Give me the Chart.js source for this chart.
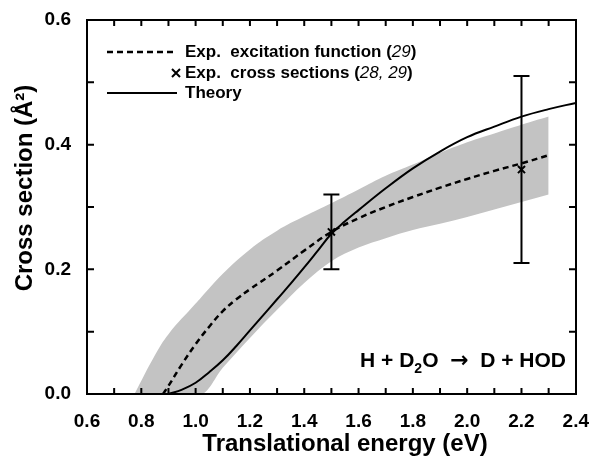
<!DOCTYPE html>
<html>
<head>
<meta charset="utf-8">
<script src="https://cdn.jsdelivr.net/npm/chart.js@4.4.0/dist/chart.umd.min.js"></script>
<style>
  html, body { margin: 0; padding: 0; background: #fff; }
  #wrap { width: 597px; height: 461px; }
</style>
</head>
<body>
<div id="wrap"><canvas id="crossSection"></canvas></div>
<script>
// H + D2O -> D + HOD : cross section vs translational energy

// grey uncertainty band of the measured excitation function
var bandEnergy = [0.775, 0.85, 0.9, 1.0, 1.02, 1.1, 1.2, 1.3, 1.4, 1.5, 1.6, 1.7, 1.8, 1.9, 2.0, 2.1, 2.2, 2.3];
var bandUpper  = [0, 0.062, 0.096, 0.145, 0.155, 0.193, 0.232, 0.262, 0.285, 0.306, 0.328, 0.35, 0.368, 0.387, 0.404, 0.418, 0.432, 0.445];
var bandLower  = [0, 0, 0, 0, 0, 0.042, 0.09, 0.135, 0.178, 0.213, 0.235, 0.25, 0.263, 0.273, 0.284, 0.296, 0.308, 0.32];

// dashed: exp. excitation function
var excEnergy = [0.88, 0.9, 0.95, 1.0, 1.05, 1.1, 1.15, 1.2, 1.3, 1.4, 1.5, 1.6, 1.7, 1.8, 1.9, 2.0, 2.1, 2.2, 2.3];
var excSigma  = [0, 0.013, 0.048, 0.08, 0.108, 0.133, 0.152, 0.168, 0.198, 0.23, 0.26, 0.282, 0.3, 0.316, 0.331, 0.345, 0.358, 0.37, 0.383];

// solid: theory
var theoryEnergy = [0.9, 0.95, 1.0, 1.05, 1.1, 1.15, 1.2, 1.25, 1.3, 1.35, 1.4, 1.45, 1.5, 1.55, 1.6, 1.7, 1.8, 1.9, 2.0, 2.1, 2.2, 2.3, 2.4];
var theorySigma  = [0, 0.007, 0.018, 0.035, 0.054, 0.077, 0.102, 0.127, 0.152, 0.177, 0.203, 0.23, 0.257, 0.277, 0.295, 0.33, 0.362, 0.389, 0.412, 0.429, 0.445, 0.457, 0.467];

// crosses with error bars: exp. cross sections
var expEnergy = [1.5, 2.2];
var expSigma  = [0.26, 0.36];
var expLow    = [0.20, 0.21];
var expHigh   = [0.32, 0.51];

var FONT = '"Liberation Sans", Arial, Helvetica, sans-serif';

function toPoints(xs, ys) {
  return xs.map(function (x, i) {
    return { x: x, y: ys[i] };
  });
}

// draws a row of text pieces with their own fonts / offsets, returns end x
function drawRuns(ctx, x, y, runs, measureOnly) {
  runs.forEach(function (run) {
    ctx.font = run.font;
    if (!measureOnly) ctx.fillText(run.text, x, y + (run.dy || 0));
    x += ctx.measureText(run.text).width;
  });
  return x;
}

var framePlugin = {
  id: 'frame',
  afterDatasetsDraw: function (chart) {
    var ctx = chart.ctx;
    var xs = chart.scales.x;
    var ys = chart.scales.y;
    ctx.save();
    ctx.strokeStyle = '#000';
    ctx.lineWidth = 2;
    ctx.setLineDash([]);
    for (var i = 0; i < expEnergy.length; i++) {
      var px = xs.getPixelForValue(expEnergy[i]);
      var lo = ys.getPixelForValue(expLow[i]);
      var hi = ys.getPixelForValue(expHigh[i]);
      ctx.beginPath();
      ctx.moveTo(px, lo); ctx.lineTo(px, hi);
      ctx.moveTo(px - 8, lo); ctx.lineTo(px + 8, lo);
      ctx.moveTo(px - 8, hi); ctx.lineTo(px + 8, hi);
      ctx.stroke();
    }
    ctx.restore();
  },
  afterDraw: function (chart) {
    var ctx = chart.ctx;
    var a = chart.chartArea;
    var xs = chart.scales.x;
    var ys = chart.scales.y;
    var l = Math.round(a.left), r = Math.round(a.right);
    var t = Math.round(a.top), b = Math.round(a.bottom);
    ctx.save();
    ctx.setLineDash([]);
    ctx.strokeStyle = '#000';
    ctx.fillStyle = '#000';
    ctx.lineWidth = 2;

    // box around the plot, as filled strips
    ctx.fillRect(l - 1, t - 1, r - l + 2, 2);
    ctx.fillRect(l - 1, b - 1, r - l + 2, 2);
    ctx.fillRect(l - 1, t - 1, 2, b - t + 2);
    ctx.fillRect(r - 1, t - 1, 2, b - t + 2);

    // inward ticks on all four sides
    ctx.beginPath();
    for (var k = 7; k < 24; k++) {
      var px = xs.getPixelForValue(k / 10);
      ctx.moveTo(px, b); ctx.lineTo(px, b - 6);
      ctx.moveTo(px, t); ctx.lineTo(px, t + 6);
    }
    for (var j = 1; j < 6; j++) {
      var py = ys.getPixelForValue(j / 10);
      ctx.moveTo(l, py); ctx.lineTo(l + 7, py);
      ctx.moveTo(r, py); ctx.lineTo(r - 7, py);
    }
    ctx.stroke();

    // legend
    var bold = 'bold 17px ' + FONT;
    var ital = 'italic 17px ' + FONT;
    var lx0 = l + 20, lx1 = l + 90, tx = l + 98;
    ctx.textBaseline = 'middle';
    ctx.textAlign = 'left';

    ctx.lineWidth = 2.5;
    ctx.setLineDash([6, 4]);
    ctx.beginPath();
    ctx.moveTo(lx0, t + 32); ctx.lineTo(lx1, t + 32);
    ctx.stroke();
    ctx.setLineDash([]);
    drawRuns(ctx, tx, t + 32, [
      { text: 'Exp.  excitation function (', font: bold },
      { text: '29', font: ital },
      { text: ')', font: bold }
    ]);

    ctx.lineWidth = 2;
    ctx.beginPath();
    ctx.moveTo(tx - 13, t + 49); ctx.lineTo(tx - 5, t + 57);
    ctx.moveTo(tx - 13, t + 57); ctx.lineTo(tx - 5, t + 49);
    ctx.stroke();
    drawRuns(ctx, tx, t + 53, [
      { text: 'Exp.  cross sections (', font: bold },
      { text: '28, 29', font: ital },
      { text: ')', font: bold }
    ]);

    ctx.beginPath();
    ctx.moveTo(lx0, t + 73); ctx.lineTo(lx1, t + 73);
    ctx.stroke();
    drawRuns(ctx, tx, t + 73, [{ text: 'Theory', font: bold }]);

    // reaction label
    var big = 'bold 21px ' + FONT;
    var sub = 'bold 14px ' + FONT;
    var arrow = 'bold 22px "DejaVu Sans", sans-serif';
    var reaction = [
      { text: 'H + D', font: big },
      { text: '2', font: sub, dy: 6 },
      { text: 'O  ', font: big },
      { text: '\u2192', font: arrow },
      { text: '  D + HOD', font: big }
    ];
    ctx.textBaseline = 'alphabetic';
    var w = drawRuns(ctx, 0, 0, reaction, true);
    drawRuns(ctx, r - 10 - w, b - 27, reaction);

    // axis titles
    ctx.font = 'bold 24px ' + FONT;
    ctx.textAlign = 'center';
    ctx.fillText('Translational energy (eV)', 345, 451);
    ctx.translate(32, 188);
    ctx.rotate(-Math.PI / 2);
    ctx.fillText('Cross section (\u00c5\u00b2)', 0, 0);
    ctx.restore();
  }
};

var tickFont = { family: FONT, size: 19, weight: 'bold' };

new Chart(document.getElementById('crossSection'), {
  type: 'line',
  data: {
    datasets: [
      {
        label: 'band upper',
        data: toPoints(bandEnergy, bandUpper),
        borderWidth: 0,
        pointRadius: 0,
        fill: '+1',
        backgroundColor: '#c3c3c3',
        tension: 0.4,
      },
      {
        label: 'band lower',
        data: toPoints(bandEnergy, bandLower),
        borderWidth: 0,
        pointRadius: 0,
        fill: false,
        cubicInterpolationMode: 'monotone',
      },
      {
        label: 'Exp. excitation function',
        data: toPoints(excEnergy, excSigma),
        borderColor: '#000',
        borderWidth: 2.5,
        borderDash: [6, 4],
        pointRadius: 0,
        fill: false,
        tension: 0.4,
      },
      {
        label: 'Theory',
        data: toPoints(theoryEnergy, theorySigma),
        borderColor: '#000',
        borderWidth: 2,
        pointRadius: 0,
        fill: false,
        tension: 0.4,
      },
      {
        label: 'Exp. cross sections',
        data: toPoints(expEnergy, expSigma),
        showLine: false,
        pointStyle: 'crossRot',
        pointRadius: 5,
        borderColor: '#000',
        borderWidth: 2,
      },
    ],
  },
  options: {
    responsive: true,
    maintainAspectRatio: false,
    animation: false,
    layout: { padding: { top: 20, right: 17, left: 0, bottom: 0 } },
    plugins: {
      legend: { display: false },
      tooltip: { enabled: false },
      filler: { drawTime: 'beforeDatasetsDraw' },
    },
    scales: {
      x: {
        type: 'linear',
        min: 0.6,
        max: 2.4,
        grid: { display: false },
        border: { display: true, width: 2, color: '#000' },
        ticks: {
          stepSize: 0.2,
          color: '#000',
          padding: 8,
          font: tickFont,
          callback: function (v) { return v.toFixed(1); },
        },
        afterFit: function (scale) { scale.height = 67; },
      },
      y: {
        type: 'linear',
        min: 0,
        max: 0.6,
        grid: { display: false },
        border: { display: true, width: 2, color: '#000' },
        ticks: {
          stepSize: 0.2,
          color: '#000',
          padding: 8,
          font: tickFont,
          callback: function (v) { return v.toFixed(1); },
        },
        afterFit: function (scale) { scale.width = 87; },
      },
    },
  },
  plugins: [framePlugin],
});
</script>
</body>
</html>
